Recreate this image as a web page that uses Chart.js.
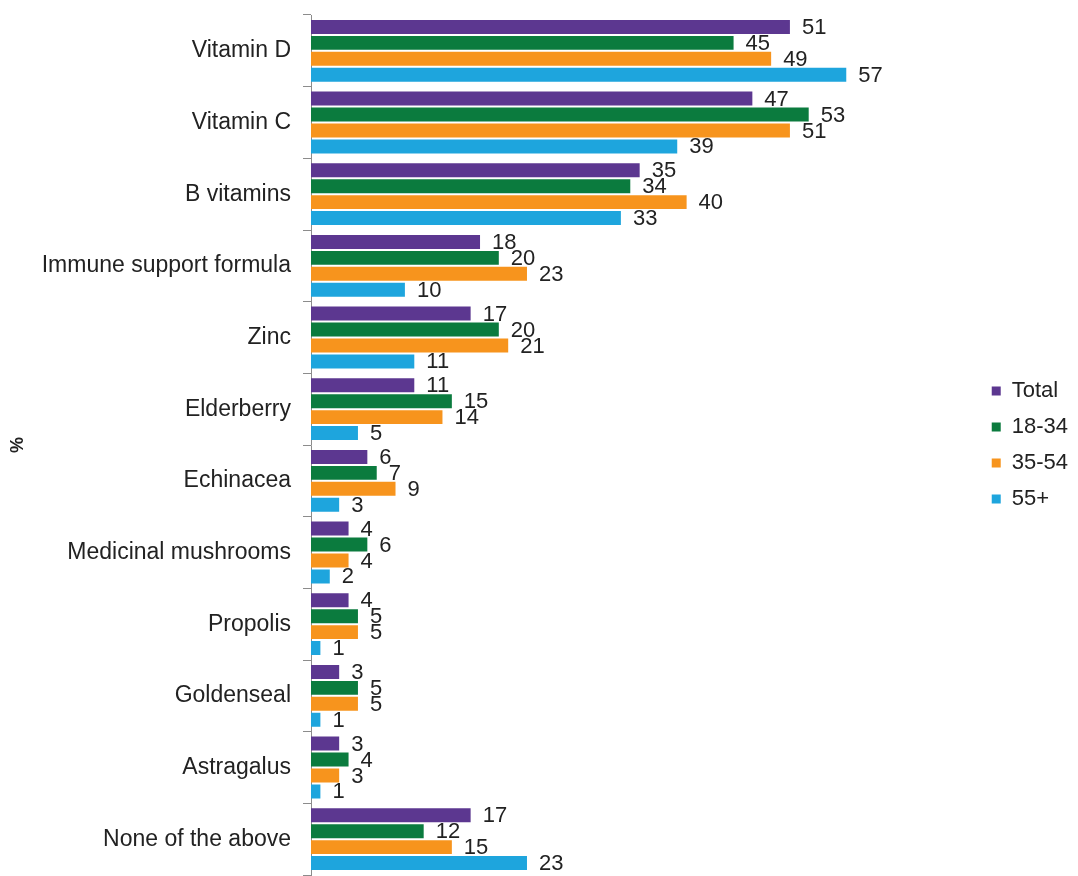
<!DOCTYPE html>
<html>
<head>
<meta charset="utf-8">
<script src="https://cdn.jsdelivr.net/npm/chart.js@4/dist/chart.umd.min.js"></script>
<style>
html,body{margin:0;padding:0;background:#fff;}
#wrap{width:1078px;height:876px;position:relative;}
</style>
</head>
<body>
<div id="wrap"><canvas id="chart"></canvas></div>
<script>
// categories and series
var categories = ['Vitamin D','Vitamin C','B vitamins','Immune support formula','Zinc','Elderberry',
  'Echinacea','Medicinal mushrooms','Propolis','Goldenseal','Astragalus','None of the above'];
var seriesNames = ['Total','18-34','35-54','55+'];
var totalVals = [51,47,35,18,17,11,6,4,4,3,3,17];
var age1834Vals = [45,53,34,20,20,15,7,6,5,5,4,12];
var age3554Vals = [49,51,40,23,21,14,9,4,5,5,3,15];
var age55Vals = [57,39,33,10,11,5,3,2,1,1,1,23];
var seriesColors = ['#5c3790','#0b7b3e','#f7941d','#1ea5dd'];

var FONT = '"Liberation Sans", Arial, sans-serif';

var valueLabels = {
  id:'valueLabels',
  afterDatasetsDraw:function(chart){
    var ctx = chart.ctx;
    ctx.save();
    ctx.font = '22px ' + FONT;
    ctx.fillStyle = '#222';
    ctx.textAlign = 'left';
    ctx.textBaseline = 'middle';
    chart.data.datasets.forEach(function(ds, i){
      var meta = chart.getDatasetMeta(i);
      meta.data.forEach(function(bar, j){
        ctx.fillText(String(ds.data[j]), bar.x + 12, bar.y + 1);
      });
    });
    ctx.restore();
  }
};

var seriesData = [totalVals, age1834Vals, age3554Vals, age55Vals];

new Chart(document.getElementById('chart'), {
  type:'bar',
  data:{
    labels:categories,
    datasets:seriesNames.map(function(name, i){
      return {label:name,data:seriesData[i],backgroundColor:seriesColors[i],
        categoryPercentage:0.89,barPercentage:0.875};
    })
  },
  options:{
    indexAxis:'y',
    responsive:true,
    maintainAspectRatio:false,
    animation:false,
    layout:{padding:{top:15,bottom:1,left:4,right:0}},
    plugins:{
      legend:{
        position:'right',
        labels:{boxWidth:9,boxHeight:9,padding:14,color:'#222',font:{family:FONT,size:22}}
      },
      tooltip:{enabled:false}
    },
    scales:{
      x:{display:false,min:0,max:71},
      y:{
        afterFit:function(scale){ scale.width = 307; scale.paddingTop = 0; scale.paddingBottom = 0; },
        border:{display:true,color:'#8c8c8c'},
        grid:{drawOnChartArea:false,drawTicks:true,tickLength:8,color:'#8c8c8c'},
        ticks:{color:'#222',padding:12,font:{family:FONT,size:23}},
        title:{display:true,text:'%',color:'#222',font:{family:FONT,size:18,weight:'bold'},padding:{top:3,bottom:0}}
      }
    }
  },
  plugins:[valueLabels]
});
</script>
</body>
</html>
